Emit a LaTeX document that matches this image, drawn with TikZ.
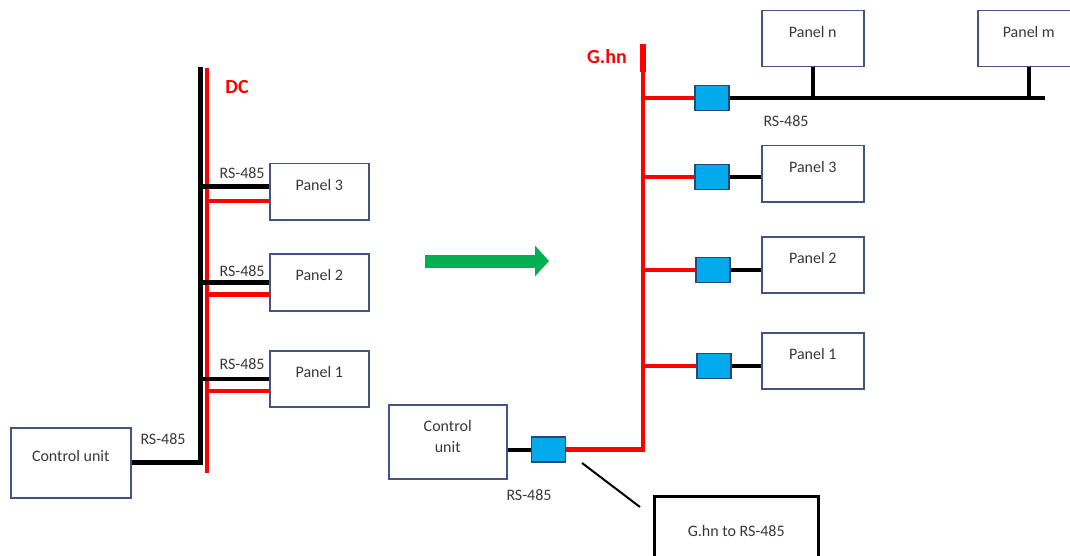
\documentclass[tikz,border=0pt]{standalone}
\usepackage{fontspec}
\setmainfont{Carlito}
\usetikzlibrary{arrows.meta}
\definecolor{frame}{RGB}{68,84,130}
\definecolor{adfill}{RGB}{0,170,235}
\definecolor{adedge}{RGB}{40,70,120}
\definecolor{arrowgreen}{RGB}{0,176,80}

\begin{document}
\begin{tikzpicture}[
  x=1pt,y=-1pt,
  every node/.style={inner sep=2pt,font=\fontsize{16}{21}\selectfont,text=black!78},
  panel/.style={draw=frame,line width=1.5pt,minimum width=102pt,minimum height=56pt,
    anchor=north west,text depth=14pt},
  unit/.style={draw=frame,line width=1.5pt,anchor=north west,align=center},
  adapter/.style={draw=adedge,line width=1.5pt,fill=adfill,
    minimum width=34pt,minimum height=25pt,inner sep=0pt},
  rsline/.style={draw=black,line width=4.5pt},
  dcline/.style={draw=red,line width=4.5pt},
  busname/.style={font=\fontsize{20}{24}\selectfont\bfseries,text=red},
  callout/.style={draw=black,line width=2pt}
]
\useasboundingbox (0,0) rectangle (1070,556);
\clip (0,0) rectangle (1070,556);

% Left: DC powered panels with RS-485 wiring
\node[unit,minimum width=120pt,minimum height=70pt,text depth=14pt] (ctrlL) at (10,427) {Control unit};
\node[panel,minimum width=99pt] (panL3) at (269,163) {Panel 3};
\node[panel,minimum width=99pt,minimum height=57pt] (panL2) at (269,253) {Panel 2};
\node[panel,minimum width=99pt] (panL1) at (269,350) {Panel 1};

\coordinate (rsTop) at (200,67);
\coordinate (dcTop) at (207,68);
\coordinate (dcBot) at (207,473);

\draw[dcline] (dcTop) -- (dcBot);
\draw[rsline,line width=5pt] (ctrlL.east) -| (rsTop);

\draw[rsline] ([yshift=5pt]panL3.west) -- ([yshift=5pt]panL3.west -| rsTop)
  node[pos=0.39,above=4pt] {RS-485};
\draw[dcline] ([yshift=-9pt]panL3.west) -- ([yshift=-9pt]panL3.west -| dcTop);
\draw[rsline] (panL2.west) -- (panL2.west -| rsTop)
  node[pos=0.39,above=1pt] {RS-485};
\draw[dcline] ([yshift=-12pt]panL2.west) -- ([yshift=-12pt]panL2.west -| dcTop);
\draw[rsline] (panL1.west) -- (panL1.west -| rsTop)
  node[pos=0.39,above=5pt] {RS-485};
\draw[dcline] ([yshift=-12pt]panL1.west) -- ([yshift=-12pt]panL1.west -| dcTop);

\node (rsCtrlL) at (163,439) {RS-485};
\node[busname] (dcName) at (237,87) {DC};

% Arrow between the two set-ups
\coordinate (arrL) at (425,261);
\coordinate (arrR) at (549,261);
\draw[arrowgreen,line width=13pt,-{Triangle[length=14pt,width=30pt]}] (arrL) -- (arrR);

% Right: G.hn over the power line
\node[unit,minimum width=118pt,minimum height=74pt,text depth=11pt] (ctrlR) at (388,404) {Control\\unit};
\node[panel] (panN)  at (761,10)  {Panel n};
\node[panel] (panM)  at (977,10)  {Panel m};
\node[panel] (panR3) at (761,145) {Panel 3};
\node[panel] (panR2) at (761,236) {Panel 2};
\node[panel] (panR1) at (761,332) {Panel 1};

\coordinate (ghTop)  at (643,44);
\coordinate (ghKnee) at (643,72);
\coordinate (busEnd) at (1045,98);

\node[adapter] (adCtrl) at (548.5,449.5) {};
\node[adapter] (adN) at (712,98)  {};
\node[adapter] (ad3) at (712,177) {};
\node[adapter] (ad2) at (713,270) {};
\node[adapter] (ad1) at (714,366) {};

\draw[dcline] (adCtrl.east) -| (ghTop);
\draw[dcline,line width=6.5pt] (ghTop) -- (ghKnee);
\draw[rsline,line width=4pt] (ctrlR.east |- adCtrl) -- (adCtrl.west);

\draw[dcline] (ghTop |- adN) -- (adN.west);
\draw[dcline] (ghTop |- ad3) -- (ad3.west);
\draw[dcline] (ghTop |- ad2) -- (ad2.west);
\draw[dcline] (ghTop |- ad1) -- (ad1.west);

\draw[rsline,line width=4pt] (adN.east) -- (busEnd);
\draw[rsline,line width=4pt] (panN.south) -- (panN.south |- adN);
\draw[rsline,line width=4pt] (panM.south) -- (panM.south |- adN);
\draw[rsline,line width=4pt] (ad3.east) -- (ad3.east -| panR3.west);
\draw[rsline,line width=4pt] (ad2.east) -- (ad2.east -| panR2.west);
\draw[rsline,line width=4pt] (ad1.east) -- (ad1.east -| panR1.west);

\node[busname] (ghName) at (607,57) {G.hn};
\node (rsBusR) at (786,121) {RS-485};
\node (rsCtrlR) at (529,495) {RS-485};

% Callout for the adapter
\node[draw=black,line width=2.5pt,minimum width=164pt,minimum height=70pt,anchor=north west]
  (ghConv) at (653,495) {G.hn to RS-485};
\coordinate (calA) at (582,463);
\coordinate (calB) at (640,507);
\draw[callout] (calA) -- (calB);

\end{tikzpicture}
\end{document}
